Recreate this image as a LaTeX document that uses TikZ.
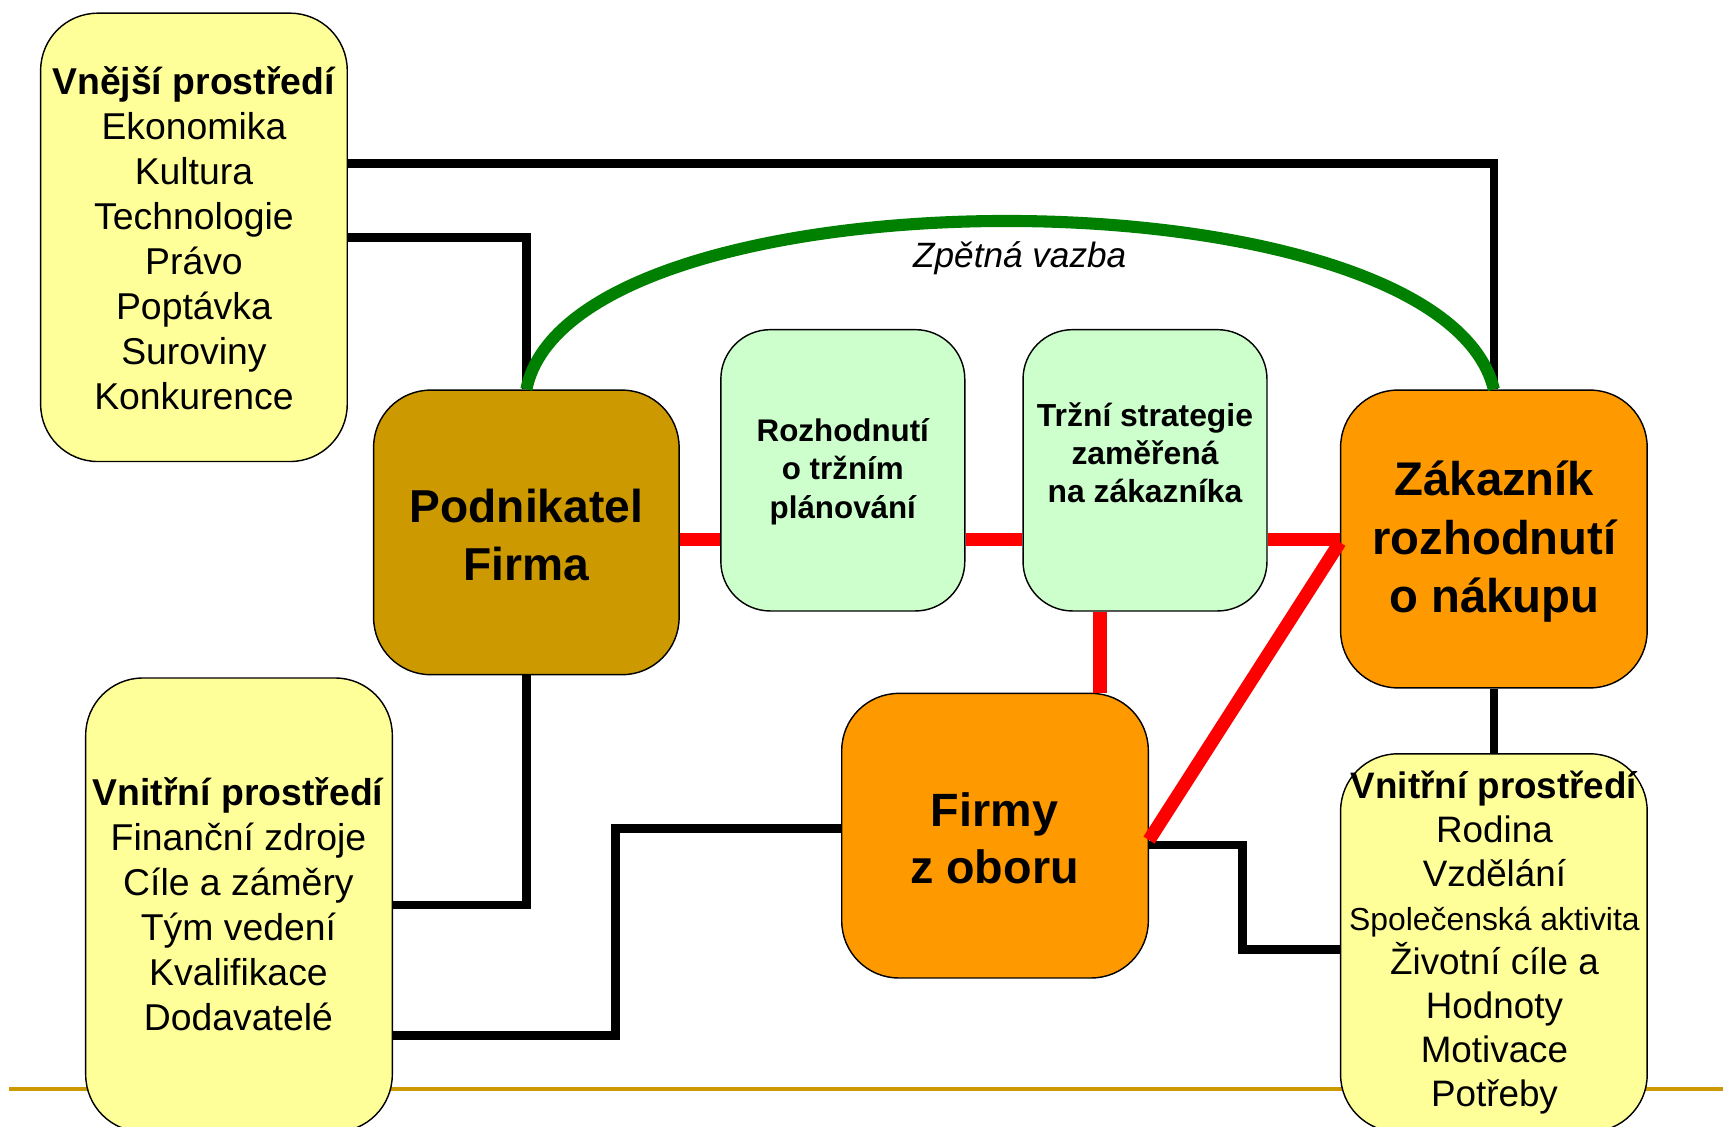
\documentclass[tikz,border=0pt]{standalone}
\usepackage{fontspec}
\setmainfont{Liberation Sans}
\usetikzlibrary{calc}
\definecolor{ylw}{HTML}{FFFF99}
\definecolor{mint}{HTML}{CCFFCC}
\definecolor{brn}{HTML}{CC9900}
\definecolor{orng}{HTML}{FF9900}
\definecolor{grn}{HTML}{008000}
\definecolor{gld}{HTML}{CC9900}
\definecolor{rd}{HTML}{FF0000}
\tikzset{
  boxbase/.style={draw=black, line width=1.3pt, rounded corners=52pt, inner sep=0pt},
  ybox/.style={boxbase, fill=ylw},
  mbox/.style={boxbase, fill=mint, rounded corners=45pt},
  bbox/.style={boxbase, fill=brn},
  obox/.style={boxbase, fill=orng},
  txt/.style={align=center, inner sep=0pt},
  blk/.style={draw=black, line width=8pt},
  red/.style={draw=rd, line width=12pt},
  arc/.style={draw=grn, line width=11pt}
}
\begin{document}
\begin{tikzpicture}[x=1pt,y=-1pt]
\clip (0,0) rectangle (1568,1025);
\fill[white] (0,0) rectangle (1568,1025);
\draw[gld, line width=3pt] (8,991) -- (1568,991);

% boxes
\node[ybox, minimum width=279pt, minimum height=408pt] (A) at (176.5,216) {};
\node[bbox, minimum width=278pt, minimum height=259pt] (B) at (479,484.5) {};
\node[mbox, minimum width=222pt, minimum height=256pt] (C) at (767,428) {};
\node[mbox, minimum width=222pt, minimum height=256pt] (D) at (1042,428) {};
\node[obox, minimum width=279pt, minimum height=271pt] (E) at (1359.5,490.5) {};
\node[obox, minimum width=279pt, minimum height=259pt] (F) at (905.5,760.5) {};
\node[ybox, minimum width=279pt, minimum height=413pt] (G) at (217.5,823.5) {};
\node[ybox, minimum width=279pt, minimum height=344pt] (H) at (1359.5,858) {};

% texts
\node[txt, font=\fontsize{34}{41}\selectfont] (tA) at (176.5,217)
  {\textbf{Vnější prostředí}\\Ekonomika\\Kultura\\Technologie\\Právo\\Poptávka\\Suroviny\\Konkurence};
\node[txt, font=\bfseries\fontsize{42}{53}\selectfont] (tB) at (479,487) {Podnikatel\\Firma};
\node[txt, font=\bfseries\fontsize{28.5}{35}\selectfont] (tC) at (767,429) {Rozhodnutí\\o tržním\\plánování};
\node[txt, font=\bfseries\fontsize{29}{35}\selectfont] (tD) at (1042,412) {Tržní strategie\\zaměřená\\na zákazníka};
\node[txt, font=\bfseries\fontsize{43}{53}\selectfont] (tE) at (1360,493) {Zákazník\\rozhodnutí\\o nákupu};
\node[txt, font=\bfseries\fontsize{42.5}{52}\selectfont] (tF) at (905,763) {Firmy\\z oboru};
\node[txt, font=\fontsize{34}{41}\selectfont] (tG) at (217,823)
  {\textbf{Vnitřní prostředí}\\Finanční zdroje\\Cíle a záměry\\Tým vedení\\Kvalifikace\\Dodavatelé};
\node[txt, font=\fontsize{33.5}{40}\selectfont] (tH) at (1360,858)
  {\textbf{Vnitřní prostředí}\\Rodina\\Vzdělání\\{\fontsize{29}{40}\selectfont Společenská aktivita}\\Životní cíle a\\Hodnoty\\Motivace\\Potřeby};
\node[inner sep=0pt, font=\itshape\fontsize{32}{32}\selectfont] (zv) at (928,235) {Zpětná vazba};

% helper coordinates
\coordinate (rl) at (0,491);
\coordinate (rv) at (1001,0);
\coordinate (m4) at (560,850);
\coordinate (m5) at (1131,800);

% black connectors
\draw[blk] ([yshift=67pt]A.east) -| (E.north);
\draw[blk] (A.east) -| (B.north);
\draw[blk] (B.south) |- (G.east);
\draw[blk] ([yshift=-118.5pt]G.east) -| (m4) |- ([yshift=6.5pt]F.west);
\draw[blk] ([yshift=-8.5pt]F.east) -| (m5) |- ([yshift=-6pt]H.west);
\draw[blk] (E.south) -- (H.north);

% red connectors
\draw[red] (B.east |- rl) -- (C.west |- rl);
\draw[red] (C.east |- rl) -- (D.west |- rl);
\draw[red] (D.east |- rl) -- (E.west |- rl);
\draw[red] (D.south -| rv) -- (F.north -| rv);
\draw[red] ([yshift=-4pt]F.east) -- ([yshift=-3pt]E.west);

% feedback arc
\draw[arc] (B.north) .. controls (520,150) and (1310,150) .. (E.north);
\end{tikzpicture}
\end{document}
